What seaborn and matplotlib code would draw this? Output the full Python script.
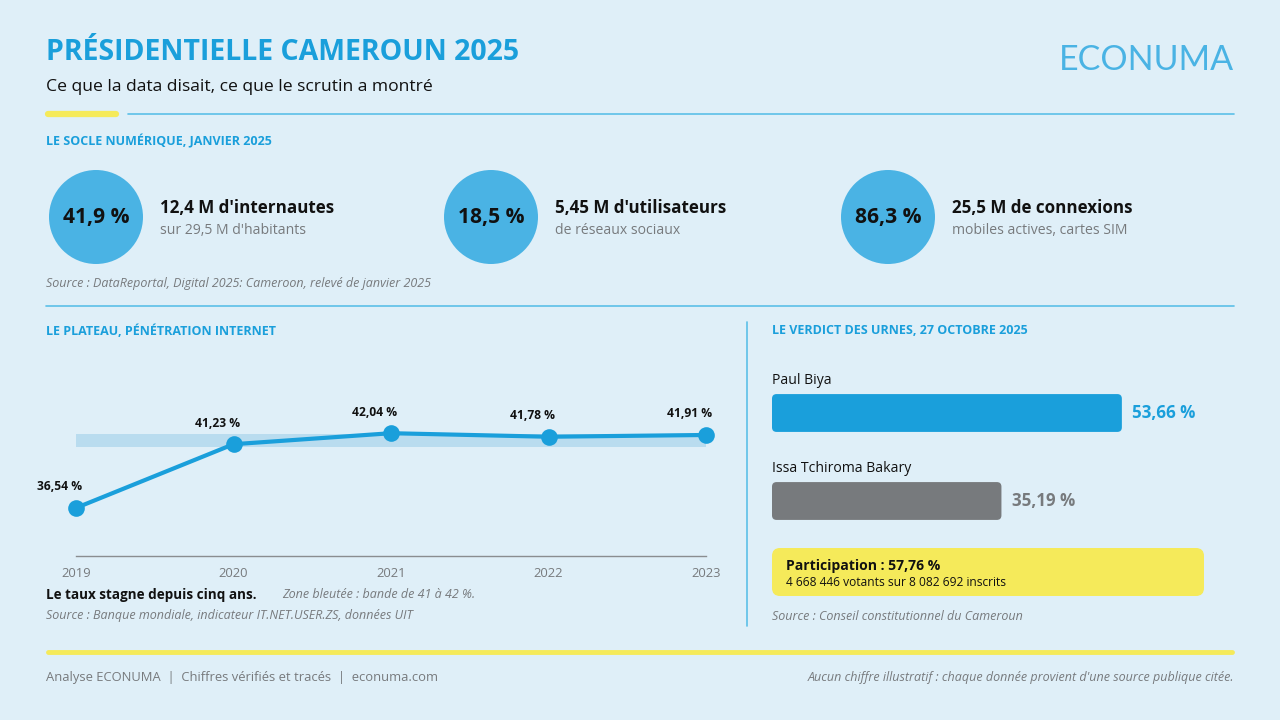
import numpy as np
import pandas as pd
import matplotlib
matplotlib.use("Agg")
import matplotlib.pyplot as plt
import seaborn as sns
from matplotlib.patches import Circle, FancyBboxPatch

# data
years = ["2019", "2020", "2021", "2022", "2023"]
penetration = [36.54, 41.23, 42.04, 41.78, 41.91]
band_low, band_high = 41, 42

kpi_pct = ["41,9 %", "18,5 %", "86,3 %"]
kpi_main = ["12,4 M d'internautes", "5,45 M d'utilisateurs", "25,5 M de connexions"]
kpi_sub = ["sur 29,5 M d'habitants", "de réseaux sociaux", "mobiles actives, cartes SIM"]

candidates = ["Paul Biya", "Issa Tchiroma Bakary"]
votes = [53.66, 35.19]
turnout = 57.76
voters = "4 668 446"
registered = "8 082 692"

BG = "#dfeff8"
BLUE = "#1a9fdb"
CIRCLE = "#4ab3e4"
GREY = "#777a7d"
YELLOW = "#f5ea5a"
LINE = "#5bbfe8"

sns.set_theme(style="white")
plt.rcParams["font.family"] = ["Open Sans", "DejaVu Sans"]

fig = plt.figure(figsize=(12.8, 7.2), dpi=100)
fig.patch.set_facecolor(BG)

# overlay axes in pixel coordinates for decoration and text
bg = fig.add_axes([0, 0, 1, 1])
bg.set_xlim(0, 1280)
bg.set_ylim(720, 0)
bg.axis("off")
bg.set_facecolor(BG)


def px(v):
    return v * 0.72


# header
bg.text(46, 53, "PRÉSIDENTIELLE CAMEROUN 2025", fontsize=px(28.5), fontweight="bold",
        color=BLUE, va="center", ha="left")
bg.text(46, 87, "Ce que la data disait, ce que le scrutin a montré", fontsize=px(17.5),
        color="#111111", va="center")
bg.text(1234, 60, "ECONUMA", fontsize=px(34), fontweight="normal", color=CIRCLE,
        ha="right", va="center", family=["Lato", "DejaVu Sans"])
bg.plot([128, 1234], [114, 114], color=LINE, lw=1.2)
bg.plot([48, 116], [114, 114], color=YELLOW, lw=4.5, solid_capstyle="round")

# section 1 - KPI circles
bg.text(46, 141, "LE SOCLE NUMÉRIQUE, JANVIER 2025", fontsize=px(12.5), fontweight="bold",
        color=BLUE, va="center")
for i, cx in enumerate([96, 491, 888]):
    bg.add_patch(Circle((cx, 217), 47, color=CIRCLE, lw=0))
    bg.text(cx, 217, kpi_pct[i], fontsize=px(21), fontweight="bold", color="#111111",
            ha="center", va="center")
    bg.text(cx + 64, 208, kpi_main[i], fontsize=px(17), fontweight="bold",
            color="#111111", va="center")
    bg.text(cx + 64, 231, kpi_sub[i], fontsize=px(14), color=GREY, va="center")
bg.text(46, 284, "Source : DataReportal, Digital 2025: Cameroon, relevé de janvier 2025",
        fontsize=px(12.5), style="italic", color=GREY, va="center")
bg.plot([46, 1234], [306, 306], color=LINE, lw=1.2)

# section 2 - line chart
bg.text(46, 331, "LE PLATEAU, PÉNÉTRATION INTERNET", fontsize=px(12.5), fontweight="bold",
        color=BLUE, va="center")
bg.text(46, 595, "Le taux stagne depuis cinq ans.", fontsize=px(13.5), fontweight="bold",
        color="#111111", va="center")
bg.text(282, 595, "Zone bleutée : bande de 41 à 42 %.", fontsize=px(12.5), style="italic",
        color=GREY, va="center")
bg.text(46, 616, "Source : Banque mondiale, indicateur IT.NET.USER.ZS, données UIT",
        fontsize=px(12.5), style="italic", color=GREY, va="center")

ax = fig.add_axes([76 / 1280, 1 - 556 / 720, 630 / 1280, 163 / 720])
ax.set_facecolor("none")
df_line = pd.DataFrame({"year": np.arange(len(years)), "pct": penetration})
ax.axhspan(band_low, band_high, color="#b9dcef", lw=0, zorder=0)
sns.lineplot(data=df_line, x="year", y="pct", ax=ax, color=BLUE, lw=3,
             marker="o", markersize=12, markeredgewidth=0, zorder=3, clip_on=False)
for x, y in zip(df_line["year"], df_line["pct"]):
    ax.annotate(f"{y:.2f} %".replace(".", ","), (x, y), xytext=(px(-16), px(21)),
                textcoords="offset points", ha="center", va="center",
                fontsize=px(12), fontweight="bold", color="#111111")
ax.set_xlim(0, len(years) - 1)
ax.set_ylim(33, 45)
ax.set_xticks(range(len(years)))
ax.set_xticklabels(years, fontsize=px(13), color=GREY)
ax.tick_params(axis="x", length=0, pad=8)
ax.set_yticks([])
ax.set_xlabel("")
ax.set_ylabel("")
for s in ["top", "left", "right"]:
    ax.spines[s].set_visible(False)
ax.spines["bottom"].set_color("#8a8d90")
ax.spines["bottom"].set_linewidth(1)

# divider
bg.plot([747, 747], [322, 626], color=LINE, lw=1.2)

# section 3 - bars
bg.text(772, 331, "LE VERDICT DES URNES, 27 OCTOBRE 2025", fontsize=px(12.5),
        fontweight="bold", color=BLUE, va="center")
bx = fig.add_axes([772 / 1280, 1 - 545 / 720, 462 / 1280, 176 / 720])
bx.set_facecolor("none")
df_bar = pd.DataFrame({"cand": candidates, "pct": votes})
bar_colors = [BLUE, GREY]
sns.barplot(data=df_bar, y="cand", x="pct", hue="cand", palette=bar_colors,
            ax=bx, width=0.43, legend=False, orient="h")
bx.set_xlim(0, 462 / 6.52)
bx.set_ylim(1.5, -0.5)
bx.axis("off")
for p, c in zip(list(bx.patches), bar_colors):
    x0, y0, w, h = p.get_x(), p.get_y(), p.get_width(), p.get_height()
    p.set_visible(False)
    bx.add_patch(FancyBboxPatch((x0, y0), w, h, boxstyle="round,pad=0,rounding_size=0.7",
                                mutation_aspect=0.075, color=c, lw=0))
for i, (name, v) in enumerate(zip(candidates, votes)):
    bx.text(0, i - 0.37, name, fontsize=px(14), color="#111111", va="center")
    bx.text(v + 1.6, i, f"{v:.2f} %".replace(".", ","), fontsize=px(17),
            fontweight="bold", color=bar_colors[i], va="center")

bg.add_patch(FancyBboxPatch((772, 548), 432, 48, boxstyle="round,pad=0,rounding_size=8",
                            color=YELLOW, lw=0))
bg.text(786, 566, f"Participation : {turnout:.2f} %".replace(".", ","), fontsize=px(14),
        fontweight="bold", color="#111111", va="center")
bg.text(786, 583, f"{voters} votants sur {registered} inscrits", fontsize=px(12),
        color="#111111", va="center")
bg.text(772, 616, "Source : Conseil constitutionnel du Cameroun", fontsize=px(12.5),
        style="italic", color=GREY, va="center")

# footer
bg.plot([48, 1232], [652, 652], color=YELLOW, lw=3.5, solid_capstyle="round")
bg.text(46, 677, "Analyse ECONUMA  |  Chiffres vérifiés et tracés  |  econuma.com",
        fontsize=px(13), color=GREY, va="center")
bg.text(1234, 677, "Aucun chiffre illustratif : chaque donnée provient d'une source publique citée.",
        fontsize=px(12.5), style="italic", color=GREY, va="center", ha="right")

fig.savefig("out.png", dpi=100, facecolor=BG)
